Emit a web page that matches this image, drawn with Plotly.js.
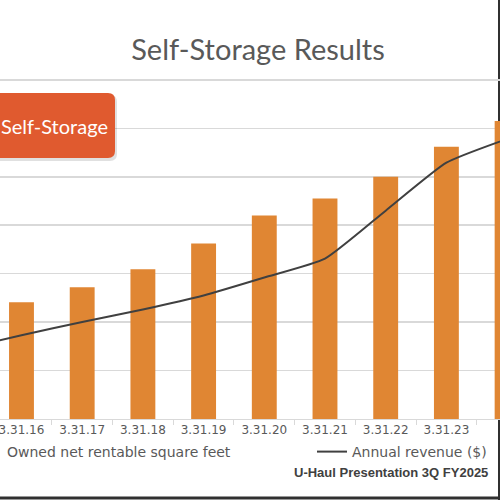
<!DOCTYPE html>
<html>
<head>
<meta charset="utf-8">
<script src="https://cdn.plot.ly/plotly-3.0.1.min.js"></script>
<style>
  html, body { margin: 0; padding: 0; background: #fff; }
  #chart { width: 500px; height: 500px; }
</style>
</head>
<body>
<div id="chart"></div>
<script>
// fiscal year ends (first and last are mostly off the cropped view)
var periods = ['3.31.15', '3.31.16', '3.31.17', '3.31.18', '3.31.19', '3.31.20',
               '3.31.21', '3.31.22', '3.31.23', '3.31.24'];
// owned net rentable square feet (millions)
var sqft = [21.5, 24.1, 27.2, 30.9, 36.2, 42.0, 45.5, 50.0, 56.2, 61.5];
// annual revenue (secondary scale)
var revenue = [144, 173, 200, 226, 255, 292, 331, 430, 529, 578];

var W = 500, H = 500;
var plotTop = 75, plotBottom = 419;

// helpers: pixel -> paper coords for the decorations
function px(x) { return x / W; }
function py(y) { return (plotBottom - y) / (plotBottom - plotTop); }

function roundBox(x0, y0, x1, y1, r) {
  var p = 'M' + px(x0 + r) + ',' + py(y0) +
    ' L' + px(x1 - r) + ',' + py(y0) +
    ' Q' + px(x1) + ',' + py(y0) + ' ' + px(x1) + ',' + py(y0 + r) +
    ' L' + px(x1) + ',' + py(y1 - r) +
    ' Q' + px(x1) + ',' + py(y1) + ' ' + px(x1 - r) + ',' + py(y1) +
    ' L' + px(x0 + r) + ',' + py(y1) +
    ' Q' + px(x0) + ',' + py(y1) + ' ' + px(x0) + ',' + py(y1 - r) +
    ' L' + px(x0) + ',' + py(y0 + r) +
    ' Q' + px(x0) + ',' + py(y0) + ' ' + px(x0 + r) + ',' + py(y0) + ' Z';
  return p;
}

var bars = {
  x: periods,
  y: sqft,
  type: 'bar',
  name: 'Owned net rentable square feet',
  marker: { color: '#E08633' },
  legend: 'legend'
};

var line = {
  x: periods,
  y: revenue,
  type: 'scatter',
  mode: 'lines',
  name: 'Annual revenue ($)',
  yaxis: 'y2',
  legend: 'legend2',
  line: { color: '#404040', width: 2, shape: 'spline', smoothing: 0.5 }
};

var legendFont = { family: 'DejaVu Sans, sans-serif', size: 14, color: '#595959' };

var layout = {
  width: W,
  height: H,
  margin: { l: 0, r: 0, t: plotTop, b: H - plotBottom, pad: 0, autoexpand: false },
  paper_bgcolor: '#ffffff',
  plot_bgcolor: '#ffffff',
  showlegend: true,
  title: {
    text: 'Self-Storage Results',
    font: { family: 'Lato, Open Sans, sans-serif', size: 29, color: '#595959' },
    x: 0.516, xanchor: 'center',
    y: 0.9, yanchor: 'middle'
  },
  bargap: 0.59,
  xaxis: {
    type: 'category',
    range: [0.646, 8.883],
    showgrid: false,
    showline: true,
    linecolor: '#d9d9d9',
    linewidth: 1,
    ticks: 'outside',
    tickson: 'boundaries',
    ticklen: 5,
    tickcolor: '#d9d9d9',
    tickfont: { family: 'DejaVu Sans, sans-serif', size: 12, color: '#595959' }
  },
  yaxis: {
    range: [0, 71],
    dtick: 10,
    showgrid: true,
    gridcolor: '#d9d9d9',
    gridwidth: 1.5,
    zeroline: false,
    showticklabels: false
  },
  yaxis2: {
    overlaying: 'y',
    side: 'right',
    range: [0, 710],
    visible: false,
    showgrid: false
  },
  legend: {
    orientation: 'h',
    x: px(-33), xanchor: 'left',
    y: py(452), yanchor: 'middle',
    font: legendFont,
    bgcolor: 'rgba(0,0,0,0)'
  },
  legend2: {
    orientation: 'h',
    x: px(312), xanchor: 'left',
    y: py(452), yanchor: 'middle',
    font: legendFont,
    bgcolor: 'rgba(0,0,0,0)'
  },
  shapes: [
    // slide frame edges
    { type: 'line', xref: 'paper', yref: 'paper', x0: px(499), x1: px(499), y0: py(0), y1: py(500),
      line: { color: '#303030', width: 2 }, layer: 'below' },
    { type: 'line', xref: 'paper', yref: 'paper', x0: 0, x1: 1, y0: py(498), y1: py(498),
      line: { color: '#303030', width: 3 } },
    // label box shadow + box
    { type: 'path', xref: 'paper', yref: 'paper', path: roundBox(-15, 95, 117, 161, 7),
      fillcolor: 'rgba(0,0,0,0.12)', line: { width: 0 } },
    { type: 'path', xref: 'paper', yref: 'paper', path: roundBox(-15, 93, 115, 158, 7),
      fillcolor: '#E05A2F', line: { width: 0 } }
  ],
  annotations: [
    { text: 'Self-Storage', xref: 'paper', yref: 'paper', x: px(54), y: py(126),
      xanchor: 'center', yanchor: 'middle', showarrow: false,
      font: { family: 'Lato, sans-serif', size: 20, color: '#ffffff' } },
    { text: '<b>U-Haul Presentation 3Q FY2025</b>', xref: 'paper', yref: 'paper',
      x: px(292), y: py(472), xanchor: 'left', yanchor: 'middle', showarrow: false,
      font: { family: 'Liberation Sans, Arial, sans-serif', size: 13, color: '#404040' } }
  ]
};

Plotly.newPlot('chart', [bars, line], layout, { displayModeBar: false, staticPlot: true });
</script>
</body>
</html>
